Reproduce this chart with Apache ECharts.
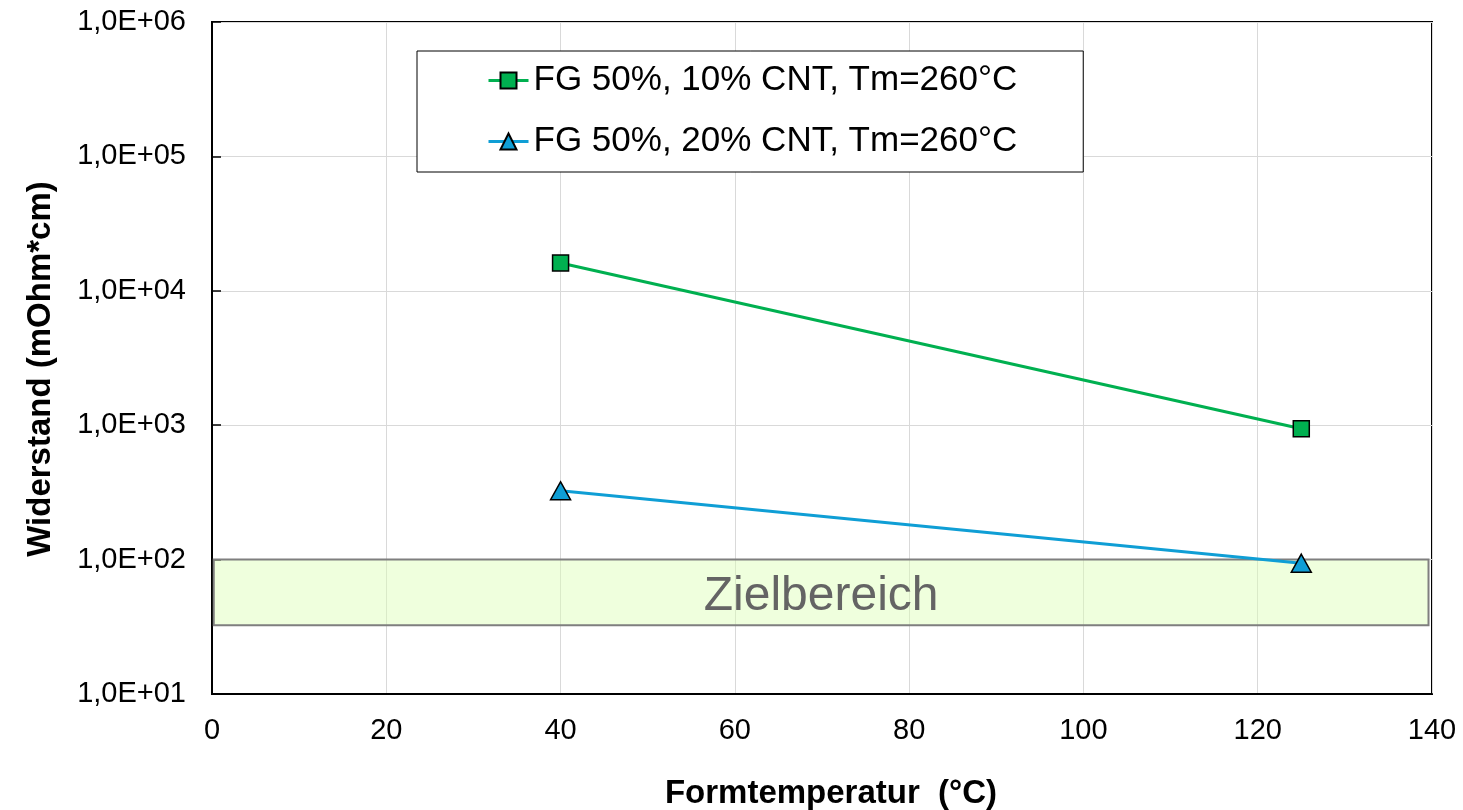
<!DOCTYPE html>
<html>
<head>
<meta charset="utf-8">
<script src="https://cdn.jsdelivr.net/npm/echarts@6/dist/echarts.min.js"></script>
<style>html,body{margin:0;padding:0;background:#fff}#c{width:1463px;height:810px}</style>
</head>
<body>
<div id="c"></div>
<script>
const seriesNames = ['FG 50%, 10% CNT, Tm=260°C', 'FG 50%, 20% CNT, Tm=260°C'];
const xValues = [40, 125];
const cnt10 = [16100, 940];
const cnt20 = [325, 94];
const targetRange = [32.5, 100];
const targetLabel = 'Zielbereich';
const xTitle = 'Formtemperatur  (°C)';
const yTitle = 'Widerstand (mOhm*cm)';

const font = 'Liberation Sans, Arial, sans-serif';
const chart = echarts.init(document.getElementById('c'));
chart.setOption({
  animation: false,
  backgroundColor: '#fff',
  grid: { left: 212, top: 22, right: 31, bottom: 116, outerBoundsMode: 'none', containLabel: false, show: true, borderColor: '#000', borderWidth: 2, backgroundColor: 'transparent' },
  legend: {
    left: 417, top: 51, orient: 'vertical',
    backgroundColor: '#fff', borderColor: '#000', borderWidth: 1,
    padding: [12, 66, 13, 70],
    itemWidth: 40, itemHeight: 20, itemGap: 26,
    lineStyle: { width: 3 },
    textStyle: { fontFamily: font, fontSize: 35, color: '#000', lineHeight: 34 },
    data: seriesNames
  },
  xAxis: {
    type: 'value', min: 0, max: 140, interval: 20,
    axisLine: { show: true, lineStyle: { color: '#000', width: 2 } },
    axisTick: { show: false },
    splitLine: { show: true, lineStyle: { color: '#d9d9d9', width: 1 } },
    axisLabel: { fontFamily: font, fontSize: 29, color: '#000', margin: 22 },
    name: xTitle, nameLocation: 'middle', nameGap: 83,
    nameTextStyle: { fontFamily: font, fontSize: 33, fontWeight: 'bold', color: '#000', padding: [0, 0, 0, 18] }
  },
  yAxis: {
    type: 'log', logBase: 10, min: 10, max: 1000000,
    axisLine: { show: true, lineStyle: { color: '#000', width: 2 } },
    axisTick: { show: true, inside: true, length: 9, lineStyle: { color: '#000', width: 1.5 } },
    minorTick: { show: false },
    splitLine: { show: true, lineStyle: { color: '#d9d9d9', width: 1 } },
    axisLabel: {
      fontFamily: font, fontSize: 29, color: '#000', margin: 26,
      formatter: v => '1,0E+' + String(Math.round(Math.log10(v))).padStart(2, '0')
    },
    name: yTitle, nameLocation: 'middle', nameGap: 155, nameRotate: 90,
    nameTextStyle: { fontFamily: font, fontSize: 33, fontWeight: 'bold', color: '#000', padding: [0, 22, 0, 0] }
  },
  series: [
    {
      name: seriesNames[0], type: 'line', z: 3,
      data: xValues.map((x, i) => [x, cnt10[i]]),
      symbol: 'rect', symbolSize: 16,
      lineStyle: { color: '#00B050', width: 3 },
      itemStyle: { color: '#00B050', borderColor: '#000', borderWidth: 1.5 }
    },
    {
      name: seriesNames[1], type: 'line', z: 3,
      data: xValues.map((x, i) => [x, cnt20[i]]),
      symbol: 'triangle', symbolSize: [20, 18],
      lineStyle: { color: '#0F9ED5', width: 3 },
      itemStyle: { color: '#0F9ED5', borderColor: '#000', borderWidth: 1.5 }
    },
    {
      name: 'band', type: 'line', data: [], z: 10,
      markArea: {
        silent: true,
        itemStyle: { color: 'rgba(220,255,180,0.45)', borderColor: '#7f7f7f', borderWidth: 2 },
        label: { show: true, position: 'inside', offset: [0, 4], fontFamily: font, fontSize: 48, color: '#646464' },
        data: [[{ name: targetLabel, coord: [0.2, targetRange[1]] }, { coord: [139.6, targetRange[0]] }]]
      }
    }
  ]
});
</script>
</body>
</html>
